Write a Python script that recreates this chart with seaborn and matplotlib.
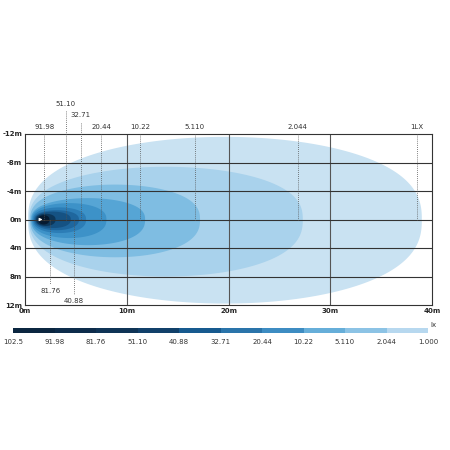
import numpy as np
import matplotlib
matplotlib.use("Agg")
import matplotlib.pyplot as plt
import seaborn as sns

sns.set_style("white")
plt.rcParams['font.family'] = ['DejaVu Sans']

# contour levels (outer -> inner)
levels = ["1LX", "2.044", "5.110", "10.22", "20.44", "32.71", "40.88", "51.10", "81.76", "91.98"]
reach = [39.0, 27.3, 17.2, 11.8, 8.0, 6.0, 5.3, 4.5, 3.0, 2.4]
start = [0.3, 0.4, 0.5, 0.6, 0.7, 0.8, 0.9, 1.0, 1.1, 1.3]
half_top = [11.6, 7.4, 4.9, 3.0, 2.3, 1.7, 1.3, 1.1, 0.8, 0.6]
half_bot = [11.8, 8.0, 5.3, 3.6, 2.6, 1.9, 1.5, 1.2, 0.9, 0.7]
colors = ["#c9e2f2", "#a9d2ec", "#7fbde2", "#56a5d5", "#3d92c8", "#2c7db6", "#1f679e", "#155283", "#0c3659", "#061a30"]
label_pos = ["top", "top", "top", "top", "top", "top", "bot", "top", "bot", "top"]
label_y = [-12.6, -12.6, -12.6, -12.6, -12.6, -14.2, 11.0, -15.8, 9.6, -12.6]

cbar_labels = ["102.5", "91.98", "81.76", "51.10", "40.88", "32.71", "20.44", "10.22", "5.110", "2.044", "1.000"]
cbar_colors = ["#0b2640", "#0d2c4b", "#0f3456", "#11406a", "#175a8f", "#2a74aa", "#3d8cc2", "#66aed9", "#8cc3e5", "#b7d8ef"]

fig = plt.figure(figsize=(4.5, 4.5), dpi=100)
ax = fig.add_axes([25/450, 1-305/450, (432-25)/450, (305-134)/450])
ax.set_xlim(0, 40)
ax.set_ylim(12, -12)

t = np.linspace(0, np.pi, 200)
for lv, r, s, ht, hb, c in zip(levels, reach, start, half_top, half_bot, colors):
    cx = (r + s) / 2
    a = (r - s) / 2
    x = cx - a * np.cos(t)
    yt = -ht * np.sin(t) ** 0.8
    yb = hb * np.sin(t[::-1]) ** 0.8
    ax.fill(np.concatenate([x, x[::-1]]), np.concatenate([yt, yb]), color=c, lw=0, zorder=1)

for v in [10, 20, 30]:
    ax.axvline(v, color="#555555", lw=0.8, zorder=2)
for h in [-8, -4, 0, 4, 8]:
    ax.axhline(h, color="#333333", lw=0.8, zorder=2)

for lv, r, pos, ly in zip(levels, reach, label_pos, label_y):
    xr = r - 0.5
    if pos == "top":
        ax.plot([xr, xr], [ly + 0.6, 0], ls=(0, (1, 1.5)), color="#555555", lw=0.6, clip_on=False, zorder=3)
        ax.text(xr, ly, lv, ha="center", va="bottom", fontsize=5, color="#333333")
    else:
        ax.plot([xr, xr], [0, ly - 0.6], ls=(0, (1, 1.5)), color="#555555", lw=0.6, clip_on=False, zorder=3)
        ax.text(xr, ly, lv, ha="center", va="top", fontsize=5, color="#333333")

ax.annotate("", xy=(2.0, 0), xytext=(1.2, 0), arrowprops=dict(arrowstyle="-|>", color="white", lw=0.8, mutation_scale=4), zorder=5)

ax.set_xticks([0, 10, 20, 30, 40])
ax.set_xticklabels(["0m", "10m", "20m", "30m", "40m"], fontsize=5, fontweight="bold")
ax.set_yticks([-12, -8, -4, 0, 4, 8, 12])
ax.set_yticklabels(["-12m", "-8m", "-4m", "0m", "4m", "8m", "12m"], fontsize=5, fontweight="bold")
ax.tick_params(length=0, pad=2)
for sp in ax.spines.values():
    sp.set_color("#333333")
    sp.set_linewidth(0.8)

cax = fig.add_axes([13/450, 1-333/450, (428-13)/450, 5/450])
sns.heatmap(np.arange(len(cbar_colors))[None, :], cmap=matplotlib.colors.ListedColormap(cbar_colors),
            cbar=False, ax=cax, xticklabels=False, yticklabels=False)
for i, lab in enumerate(cbar_labels):
    cax.text(i, 2.8, lab, ha="center", va="center", fontsize=5, color="#333333")
cax.text(10.05, -0.6, "lx", ha="left", va="center", fontsize=5, color="#333333")
cax.set_xlim(0, 10)

fig.savefig("out.png", dpi=100)
